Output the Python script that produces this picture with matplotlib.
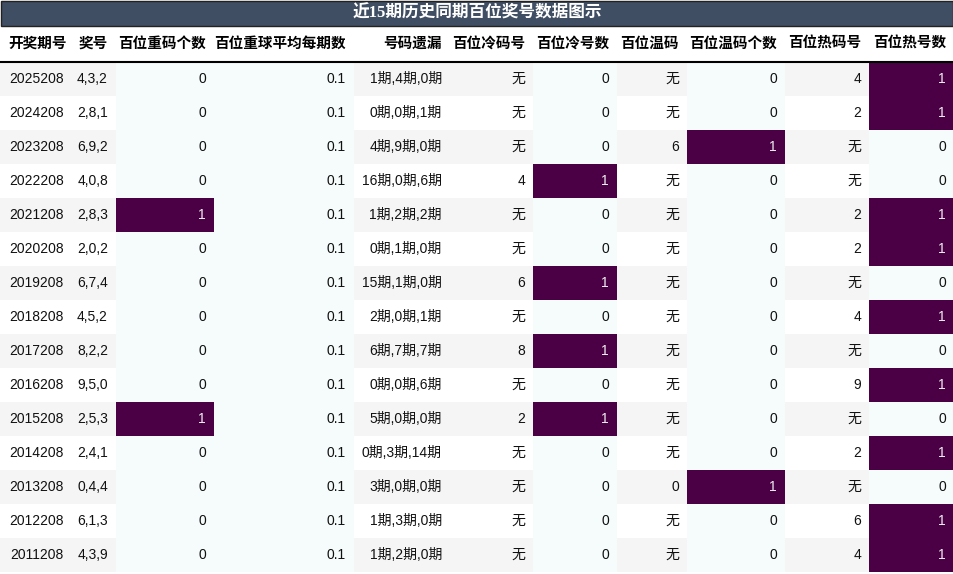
import matplotlib.pyplot as plt
from matplotlib.patches import Rectangle

plt.rcParams['font.family'] = ['Liberation Sans', 'Noto Sans CJK SC', 'DejaVu Sans']

title = '近15期历史同期百位奖号数据图示'
columns = ['开奖期号', '奖号', '百位重码个数', '百位重球平均每期数', '号码遗漏', '百位冷码号',
           '百位冷号数', '百位温码', '百位温码个数', '百位热码号', '百位热号数']
periods = ['2025208', '2024208', '2023208', '2022208', '2021208', '2020208', '2019208', '2018208',
           '2017208', '2016208', '2015208', '2014208', '2013208', '2012208', '2011208']
draws = ['4,3,2', '2,8,1', '6,9,2', '4,0,8', '2,8,3', '2,0,2', '6,7,4', '4,5,2',
         '8,2,2', '9,5,0', '2,5,3', '2,4,1', '0,4,4', '6,1,3', '4,3,9']
repeat_cnt = [0, 0, 0, 0, 1, 0, 0, 0, 0, 0, 1, 0, 0, 0, 0]
repeat_avg = [0.1] * 15
missing = ['1期,4期,0期', '0期,0期,1期', '4期,9期,0期', '16期,0期,6期', '1期,2期,2期', '0期,1期,0期',
           '15期,1期,0期', '2期,0期,1期', '6期,7期,7期', '0期,0期,6期', '5期,0期,0期', '0期,3期,14期',
           '3期,0期,0期', '1期,3期,0期', '1期,2期,0期']
cold_code = ['无', '无', '无', '4', '无', '无', '6', '无', '8', '无', '2', '无', '无', '无', '无']
cold_cnt = [0, 0, 0, 1, 0, 0, 1, 0, 1, 0, 1, 0, 0, 0, 0]
warm_code = ['无', '无', '6', '无', '无', '无', '无', '无', '无', '无', '无', '无', '0', '无', '无']
warm_cnt = [0, 0, 1, 0, 0, 0, 0, 0, 0, 0, 0, 0, 1, 0, 0]
hot_code = ['4', '2', '无', '无', '2', '2', '无', '4', '无', '9', '无', '2', '无', '6', '4']
hot_cnt = [1, 1, 0, 0, 1, 1, 0, 1, 0, 1, 0, 1, 0, 1, 1]

table = [periods, draws, repeat_cnt, repeat_avg, missing, cold_code,
         cold_cnt, warm_code, warm_cnt, hot_code, hot_cnt]
count_cols = {2, 3, 6, 8, 10}
highlight_cols = {2, 6, 8, 10}

edges = [0, 72, 116, 214, 354, 450, 533, 617, 687, 785, 869, 954]
title_h, head_h, row_h = 26, 36, 34

fig = plt.figure(figsize=(9.54, 5.74), dpi=100)
ax = fig.add_axes([0, 0, 1, 1])
ax.set_xlim(0, 954)
ax.set_ylim(574, 0)
ax.axis('off')

# 标题栏
ax.add_patch(Rectangle((0.5, 0.5), 953, title_h - 1, facecolor='#3f4e63', edgecolor='#222222', lw=1))
ax.text(477, title_h / 2, title, color='white', fontsize=12, fontweight='bold',
        ha='center', va='center', family=['Liberation Serif', 'Noto Sans CJK SC'])

# 表头
for j, name in enumerate(columns):
    x = edges[j] + 8 if j == 0 else edges[j + 1] - 8
    ax.text(x, title_h + head_h / 2, name, fontsize=10.5, fontweight='bold',
            ha='left' if j == 0 else 'right', va='center')
ax.plot([0, 954], [title_h + head_h, title_h + head_h], color='black', lw=1.5)

# 数据
y0 = title_h + head_h
for i in range(len(periods)):
    top = y0 + i * row_h
    for j, col in enumerate(table):
        val = col[i]
        hi = j in highlight_cols and val == 1
        if hi:
            fc = '#4b0046'
        elif j in count_cols:
            fc = '#f6fcfc'
        else:
            fc = '#f5f5f5' if i % 2 == 0 else 'white'
        ax.add_patch(Rectangle((edges[j], top), edges[j + 1] - edges[j], row_h, facecolor=fc, lw=0))
        ax.text(edges[j + 1] - 8, top + row_h / 2, str(val), fontsize=10,
                color='#eeeeee' if hi else '#111111', ha='right', va='center')

fig.savefig('out.png', dpi=100)
